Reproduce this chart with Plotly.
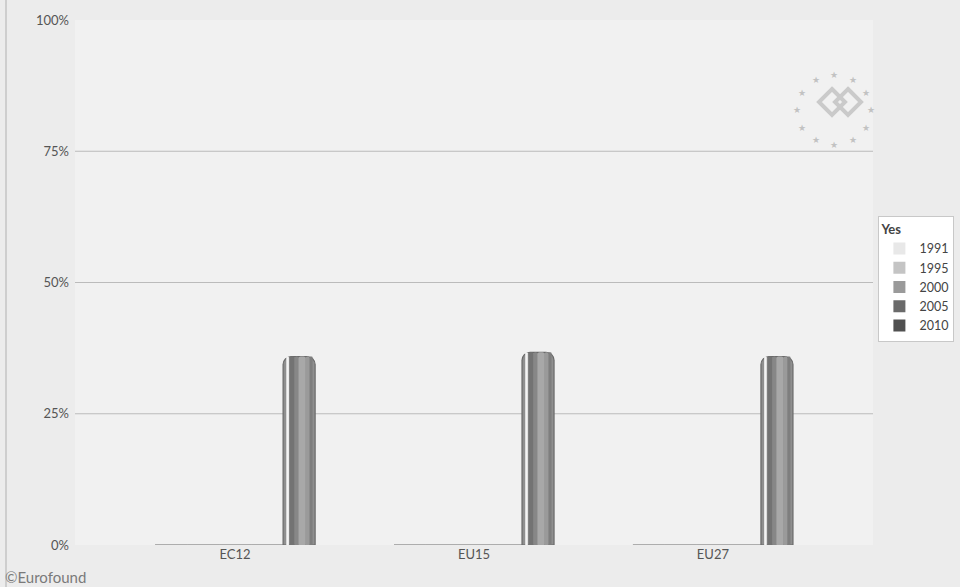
import math
import plotly.graph_objects as go

categories = ["EC12", "EU15", "EU27"]
years = ["1991", "1995", "2000", "2005", "2010"]
values = {
    "1991": [0, 0, 0],
    "1995": [0, 0, 0],
    "2000": [0, 0, 0],
    "2005": [0, 0, 0],
    "2010": [35.9, 36.7, 35.9],
}
colors = {
    "1991": "#e6e6e6",
    "1995": "#c4c4c4",
    "2000": "#a6a6a6",
    "2005": "#7a7a7a",
    "2010": "#8f8f8f",
}
legend_colors = {
    "1991": "#e8e8e8",
    "1995": "#c4c4c4",
    "2000": "#9a9a9a",
    "2005": "#6a6a6a",
    "2010": "#505050",
}
grid_levels = [25, 50, 75]
tick_vals = [0, 25, 50, 75, 100]
tick_text = ["0%", "25%", "50%", "75%", "100%"]

# page geometry (pixels)
W, H = 960, 587
ML, MR, MT, MB = 75, 87, 20, 42
PW, PH = W - ML - MR, H - MT - MB
X_RANGE = [-0.67, 2.67]
BARGAP = 0.33
unit_px = PW / (X_RANGE[1] - X_RANGE[0])
bar_w = (1 - BARGAP) / len(years)
last_off = -(1 - BARGAP) / 2 + bar_w * (len(years) - 1)

fig = go.Figure()
for y in years:
    fig.add_trace(go.Bar(
        name=y, x=categories, y=values[y],
        marker=dict(color=colors[y], line=dict(color="#6a6a6a", width=1.2),
                    cornerradius=8 if y == "2010" else 0),
        showlegend=False, hoverinfo="skip" if y != "2010" else None,
    ))

# shading strips on the 2010 bars (cylinder look): (start px, width px, colour)
strips = [(3.2, 2.6, "#f4f4f4"), (6.5, 5, "#737373"), (11.5, 4, "#878787"),
          (15.5, 7, "#a8a8a8"), (22.5, 4, "#9a9a9a"), (26.5, 3, "#7e7e7e")]
for s0, sw, col in strips:
    fig.add_trace(go.Bar(
        x=categories, y=values["2010"], xaxis="x3",
        offset=last_off + s0 / unit_px, width=sw / unit_px,
        marker=dict(color=col, line=dict(width=0), cornerradius=2),
        showlegend=False, hoverinfo="skip",
    ))

for y in years:
    fig.add_trace(go.Bar(
        name=y, x=[None], y=[None], xaxis="x2",
        marker=dict(color=legend_colors[y], line=dict(width=0)),
        showlegend=True,
    ))

shapes = []
for g in grid_levels:
    shapes.append(dict(type="line", xref="paper", yref="y", x0=0, x1=1, y0=g, y1=g,
                       line=dict(color="#bbbbbb", width=1), layer="below"))
shapes.append(dict(type="line", xref="paper", yref="paper", x0=(6 - ML) / PW, x1=(6 - ML) / PW,
                   y0=-0.09, y1=1.04, line=dict(color="#c4c4c4", width=1.5)))


def px(xp):
    return (xp - ML) / PW


def py(yp):
    return (H - MB - yp) / PH


# watermark logo: two linked diamonds inside a ring of stars
lcx, lcy = 840, 102
for dx in (-8, 8):
    c = lcx + dx
    hs = 13
    path = "M {} {} L {} {} L {} {} L {} {} Z".format(
        px(c), py(lcy - hs), px(c + hs), py(lcy), px(c), py(lcy + hs), px(c - hs), py(lcy))
    shapes.append(dict(type="path", xref="paper", yref="paper", path=path,
                       line=dict(color="#cacaca", width=4)))

annotations = [dict(text="©Eurofound", xref="paper", yref="paper", x=px(3), y=py(566),
                    xanchor="left", yanchor="top", showarrow=False,
                    font=dict(family="Lato, DejaVu Sans", size=15, color="#7a7a7a"))]
for i in range(12):
    a = 2 * math.pi * i / 12
    annotations.append(dict(text="★", xref="paper", yref="paper",
                            x=px(lcx + 37 * math.cos(a)), y=py(lcy + 35 * math.sin(a)),
                            showarrow=False, font=dict(size=9, color="#c2c2c2")))

fig.update_layout(
    width=W, height=H,
    margin=dict(l=ML, r=MR, t=MT, b=MB, autoexpand=False),
    paper_bgcolor="#ececec",
    plot_bgcolor="#f1f1f1",
    barmode="group",
    bargap=BARGAP,
    bargroupgap=0.0,
    font=dict(family="Lato, DejaVu Sans", size=13, color="#555"),
    xaxis=dict(range=X_RANGE, showgrid=False, showline=False, ticks="",
               tickfont=dict(size=13, color="#555")),
    xaxis2=dict(overlaying="x", visible=False, range=[0, 1]),
    xaxis3=dict(overlaying="x", visible=False, range=X_RANGE, type="category",
                categoryarray=categories),
    yaxis=dict(range=[0, 100], tickvals=tick_vals, ticktext=tick_text, showgrid=False,
               zeroline=False, showline=False, ticks="", ticklabelstandoff=5,
               tickfont=dict(size=13, color="#555")),
    legend=dict(xref="container", yref="container", x=0.915, y=0.632,
                xanchor="left", yanchor="top",
                bgcolor="#ffffff", bordercolor="#c8c8c8", borderwidth=1,
                title=dict(text="<b>Yes</b>", font=dict(size=13, color="#444")),
                font=dict(size=12.5, color="#444"), itemsizing="constant",
                tracegroupgap=0, itemwidth=30),
    shapes=shapes,
    annotations=annotations,
)

fig.write_html("out.html", config={"displayModeBar": False},
               post_script="document.body.style.margin='0';document.body.style.background='#ececec';")
